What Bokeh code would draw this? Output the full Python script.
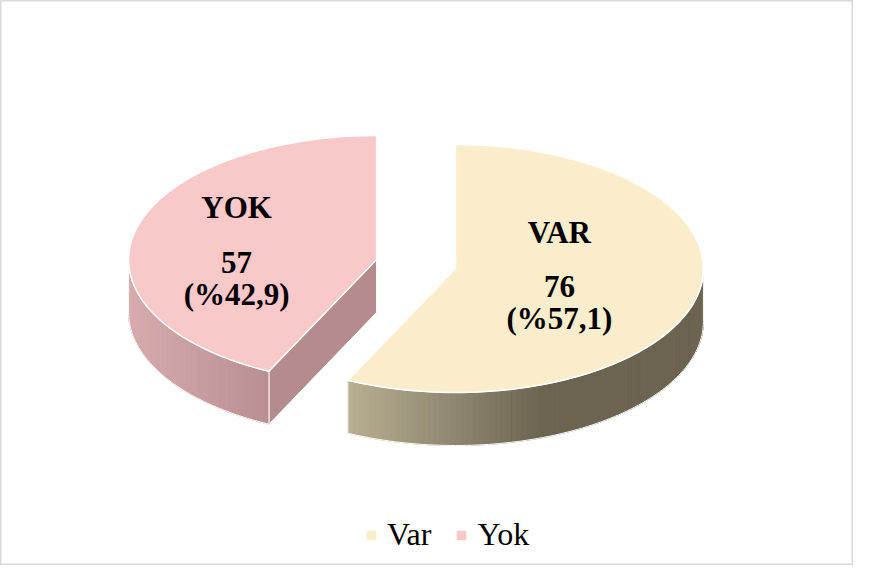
import math
from bokeh.plotting import figure
from bokeh.models import ColumnDataSource, Range1d, Legend, LegendItem
from bokeh.core.properties import value
from bokeh.embed import file_html
from bokeh.resources import INLINE

# ---- data ----
categories = ["Var", "Yok"]
counts = [76, 57]
slice_titles = ["VAR", "YOK"]

# ---- styles ----
top_colors = ["#FAEDCB", "#F9C8C9"]
side_light = [(184, 175, 146), (215, 171, 173)]
side_dark = [(107, 100, 81), (184, 143, 145)]
ramp_end = [0.55, 1.0]
cut_colors = ["#6B6451", "#B48C8D"]
label_offsets = [(104, -36), (-140, -52)]   # first label line centre relative to slice centre
line_steps = [0, 54.5, 86.5]

total = sum(counts)
percents = ["(%" + f"{c / total * 100:.1f}".replace(".", ",") + ")" for c in counts]

W, H = 853, 565
p = figure(width=W, height=H, output_backend="svg", toolbar_location=None,
           x_range=Range1d(0, W), y_range=Range1d(H, 0),
           min_border=0, x_axis_location=None, y_axis_location=None)
p.grid.visible = False
p.outline_line_color = "#D9D9D9"
p.outline_line_width = 2
p.background_fill_color = "white"
p.border_fill_color = "white"

CX, CY = 415.5, 263.5
RX, RY = 248, 124
DEPTH = 53
EXPLODE = 0.163


def pt(cx, cy, t, dy=0.0):
    return cx + RX * math.sin(t), cy - RY * math.cos(t) + dy


def mix(c1, c2, f):
    f = max(0.0, min(1.0, f))
    r, g, b = (round(c1[k] + (c2[k] - c1[k]) * f) for k in range(3))
    return f"#{r:02X}{g:02X}{b:02X}"


slices = []
start = 0.0
for c in counts:
    sweep = 2 * math.pi * c / total
    a0, a1 = start, start + sweep
    mid = (a0 + a1) / 2
    cx = CX + EXPLODE * RX * math.sin(mid)
    cy = CY - EXPLODE * RY * math.cos(mid)
    slices.append((a0, a1, cx, cy))
    start = a1

top_renderers = []
label_x, label_y, label_t = [], [], []
for i, (a0, a1, cx, cy) in enumerate(slices):
    # cut faces
    for a, vis in ((a0, math.sin(a0) < -1e-6), (a1, math.sin(a1) > 1e-6)):
        if vis:
            ex, ey = pt(cx, cy, a)
            p.patch([cx, ex, ex, cx], [cy, ey, ey + DEPTH, cy + DEPTH],
                    fill_color=cut_colors[i], line_color="white", line_width=1)
    # outer side
    s0, s1 = max(a0, math.pi / 2), min(a1, 3 * math.pi / 2)
    if s1 > s0:
        n = 90
        ts = [s0 + (s1 - s0) * k / n for k in range(n + 1)]
        xs_all = [pt(cx, cy, t)[0] for t in ts]
        xmin, xmax = min(xs_all), max(xs_all)
        sx, sy, sc = [], [], []
        for k in range(n):
            x0, y0 = pt(cx, cy, ts[k])
            x1, y1 = pt(cx, cy, ts[k + 1])
            xm = (x0 + x1) / 2
            f = (xm - xmin) / (xmax - xmin) / ramp_end[i]
            sx.append([x0, x1, x1, x0])
            sy.append([y0, y1, y1 + DEPTH, y0 + DEPTH])
            sc.append(mix(side_light[i], side_dark[i], f))
        src = ColumnDataSource(dict(xs=sx, ys=sy, c=sc))
        p.patches("xs", "ys", source=src, fill_color="c", line_color="c", line_width=1)
        ox = [pt(cx, cy, t)[0] for t in ts] + [pt(cx, cy, t)[0] for t in reversed(ts)]
        oy = [pt(cx, cy, t)[1] for t in ts] + [pt(cx, cy, t, DEPTH)[1] for t in reversed(ts)]
        p.patch(ox, oy, fill_alpha=0, line_color="white", line_width=1)
    # top face
    m = 120
    tx = [cx] + [pt(cx, cy, a0 + (a1 - a0) * k / m)[0] for k in range(m + 1)]
    ty = [cy] + [pt(cx, cy, a0 + (a1 - a0) * k / m)[1] for k in range(m + 1)]
    r = p.patch(tx, ty, fill_color=top_colors[i], line_color="white", line_width=1.5)
    top_renderers.append(r)
    # labels
    lx, ly = cx + label_offsets[i][0], cy + label_offsets[i][1]
    for txt, step in zip([slice_titles[i], str(counts[i]), percents[i]], line_steps):
        label_x.append(lx)
        label_y.append(ly + step)
        label_t.append(txt)

lab_src = ColumnDataSource(dict(x=label_x, y=label_y, t=label_t))
p.text("x", "y", text="t", source=lab_src, text_font=value("Liberation Serif"),
       text_font_style="bold", text_font_size="31px", text_color="#000000",
       text_align="center", text_baseline="middle")

legend = Legend(items=[LegendItem(label=categories[i], renderers=[top_renderers[i]])
                       for i in range(len(categories))],
                orientation="horizontal", location=(364, 12),
                label_text_font="Liberation Serif", label_text_font_size="32px",
                label_text_color="#000000",
                glyph_width=14, glyph_height=14, label_standoff=9, spacing=23,
                padding=0, margin=0, border_line_color=None, background_fill_alpha=0)
p.add_layout(legend, "center")

open("out.html", "w").write(file_html(p, INLINE))
